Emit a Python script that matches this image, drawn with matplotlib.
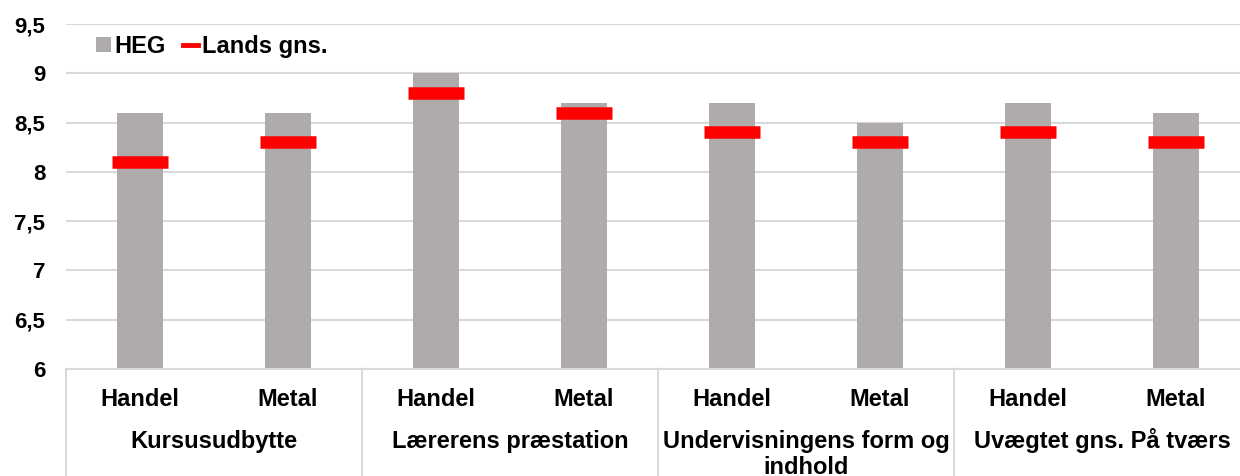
import matplotlib
matplotlib.use("Agg")
import matplotlib.pyplot as plt
from matplotlib.transforms import blended_transform_factory
from matplotlib.lines import Line2D
from matplotlib.patches import Patch

groups = ["Kursusudbytte", "Lærerens præstation", "Undervisningens form og\nindhold", "Uvægtet gns. På tværs"]
subs = ["Handel", "Metal"]
heg = [8.6, 8.6, 9.0, 8.7, 8.7, 8.5, 8.7, 8.6]
lands = [8.1, 8.3, 8.8, 8.6, 8.4, 8.3, 8.4, 8.3]
yticks = [6, 6.5, 7, 7.5, 8, 8.5, 9, 9.5]
ytick_labels = ["6", "6,5", "7", "7,5", "8", "8,5", "9", "9,5"]

plt.rcParams['font.family'] = ['Liberation Sans', 'DejaVu Sans']
W, H = 1240, 476
FS = 17
fig = plt.figure(figsize=(W / 100, H / 100), dpi=100)
left, right, top, bottom = 66, 1250, 24, 369
ax = fig.add_axes([left / W, 1 - bottom / H, (right - left) / W, (bottom - top) / H])

x = list(range(len(heg)))
ax.bar(x, heg, width=0.31, color="#AFABAB", zorder=2)
ax.plot(x, lands, linestyle="none", marker="_", markersize=40, markeredgewidth=9,
        color="#FF0000", zorder=3)

ax.set_xlim(-0.5, len(heg) - 0.5)
ax.set_ylim(6, 9.5)
ax.set_yticks(yticks)
ax.set_yticklabels(ytick_labels, fontsize=16, fontweight="bold")
ax.tick_params(axis="y", length=0, pad=15)
ax.set_xticks([])
ax.grid(axis="y", color="#D9D9D9", linewidth=1.5, zorder=0)
for s in ["top", "right", "left"]:
    ax.spines[s].set_visible(False)
ax.spines["bottom"].set_color("#D9D9D9")
ax.spines["bottom"].set_linewidth(1.5)

tr = blended_transform_factory(ax.transData, ax.transAxes)
ax_h = bottom - top
for i in x:
    ax.text(i, -(406 - bottom) / ax_h, subs[i % 2], transform=tr, ha="center", va="baseline",
            fontsize=FS, fontweight="bold")
for g, name in enumerate(groups):
    for k, line in enumerate(name.split("\n")):
        ax.text(2 * g + 0.5, -(448 + 26 * k - bottom) / ax_h, line, transform=tr,
                ha="center", va="baseline", fontsize=FS, fontweight="bold")
for b in range(len(groups) + 1):
    ax.plot([2 * b - 0.5, 2 * b - 0.5], [0, -(H - bottom) / ax_h], transform=tr,
            color="#D9D9D9", linewidth=1.5, clip_on=False)

handles = [Patch(facecolor="#AFABAB", edgecolor="none"),
           Line2D([0], [0], color="#FF0000", linewidth=3.5)]
leg = ax.legend(handles, ["HEG", "Lands gns."], ncol=2, frameon=False,
                loc="upper left", bbox_to_anchor=(96 / W, 1 - 35 / H),
                bbox_transform=fig.transFigure, handlelength=0.62, handleheight=0.6,
                handletextpad=0.17, columnspacing=0.72, borderaxespad=0, borderpad=0,
                prop={"size": FS, "weight": "bold"})

fig.savefig("out.png", dpi=100)
